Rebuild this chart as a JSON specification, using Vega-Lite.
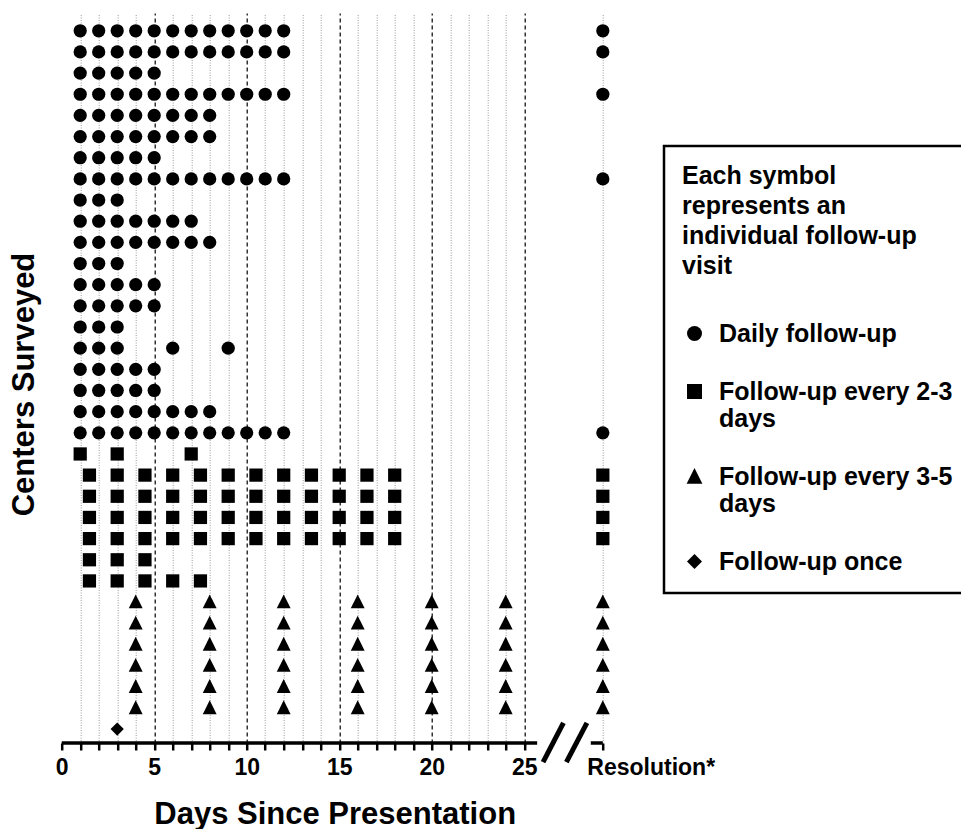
{
  "$schema": "https://vega.github.io/schema/vega-lite/v6.json",
  "width": 555,
  "height": 730,
  "autosize": {"type": "none"},
  "padding": {"left": 61.7, "top": 13, "right": 344.3, "bottom": 86},
  "background": "white",
  "config": {
    "view": {"stroke": null},
    "font": "Liberation Sans",
    "legend": {"strokeWidth": 2.5},
    "axis": {"labelOverlap": false, "labelFlush": false, "labelBound": false, "labelSeparation": 0},
    "axisY": {"domain": false, "ticks": false, "labels": false, "grid": false},
    "axisX": {"domain": false, "tickCount": 100, "format": "d"}
  },
  "datasets": {
    "visits": [
      {"center":1,"day":1,"type":"Daily follow-up"},{"center":1,"day":2,"type":"Daily follow-up"},{"center":1,"day":3,"type":"Daily follow-up"},{"center":1,"day":4,"type":"Daily follow-up"},{"center":1,"day":5,"type":"Daily follow-up"},{"center":1,"day":6,"type":"Daily follow-up"},{"center":1,"day":7,"type":"Daily follow-up"},{"center":1,"day":8,"type":"Daily follow-up"},{"center":1,"day":9,"type":"Daily follow-up"},{"center":1,"day":10,"type":"Daily follow-up"},{"center":1,"day":11,"type":"Daily follow-up"},{"center":1,"day":12,"type":"Daily follow-up"},{"center":1,"day":29.25,"type":"Daily follow-up"},
      {"center":2,"day":1,"type":"Daily follow-up"},{"center":2,"day":2,"type":"Daily follow-up"},{"center":2,"day":3,"type":"Daily follow-up"},{"center":2,"day":4,"type":"Daily follow-up"},{"center":2,"day":5,"type":"Daily follow-up"},{"center":2,"day":6,"type":"Daily follow-up"},{"center":2,"day":7,"type":"Daily follow-up"},{"center":2,"day":8,"type":"Daily follow-up"},{"center":2,"day":9,"type":"Daily follow-up"},{"center":2,"day":10,"type":"Daily follow-up"},{"center":2,"day":11,"type":"Daily follow-up"},{"center":2,"day":12,"type":"Daily follow-up"},{"center":2,"day":29.25,"type":"Daily follow-up"},
      {"center":3,"day":1,"type":"Daily follow-up"},{"center":3,"day":2,"type":"Daily follow-up"},{"center":3,"day":3,"type":"Daily follow-up"},{"center":3,"day":4,"type":"Daily follow-up"},{"center":3,"day":5,"type":"Daily follow-up"},
      {"center":4,"day":1,"type":"Daily follow-up"},{"center":4,"day":2,"type":"Daily follow-up"},{"center":4,"day":3,"type":"Daily follow-up"},{"center":4,"day":4,"type":"Daily follow-up"},{"center":4,"day":5,"type":"Daily follow-up"},{"center":4,"day":6,"type":"Daily follow-up"},{"center":4,"day":7,"type":"Daily follow-up"},{"center":4,"day":8,"type":"Daily follow-up"},{"center":4,"day":9,"type":"Daily follow-up"},{"center":4,"day":10,"type":"Daily follow-up"},{"center":4,"day":11,"type":"Daily follow-up"},{"center":4,"day":12,"type":"Daily follow-up"},{"center":4,"day":29.25,"type":"Daily follow-up"},
      {"center":5,"day":1,"type":"Daily follow-up"},{"center":5,"day":2,"type":"Daily follow-up"},{"center":5,"day":3,"type":"Daily follow-up"},{"center":5,"day":4,"type":"Daily follow-up"},{"center":5,"day":5,"type":"Daily follow-up"},{"center":5,"day":6,"type":"Daily follow-up"},{"center":5,"day":7,"type":"Daily follow-up"},{"center":5,"day":8,"type":"Daily follow-up"},
      {"center":6,"day":1,"type":"Daily follow-up"},{"center":6,"day":2,"type":"Daily follow-up"},{"center":6,"day":3,"type":"Daily follow-up"},{"center":6,"day":4,"type":"Daily follow-up"},{"center":6,"day":5,"type":"Daily follow-up"},{"center":6,"day":6,"type":"Daily follow-up"},{"center":6,"day":7,"type":"Daily follow-up"},{"center":6,"day":8,"type":"Daily follow-up"},
      {"center":7,"day":1,"type":"Daily follow-up"},{"center":7,"day":2,"type":"Daily follow-up"},{"center":7,"day":3,"type":"Daily follow-up"},{"center":7,"day":4,"type":"Daily follow-up"},{"center":7,"day":5,"type":"Daily follow-up"},
      {"center":8,"day":1,"type":"Daily follow-up"},{"center":8,"day":2,"type":"Daily follow-up"},{"center":8,"day":3,"type":"Daily follow-up"},{"center":8,"day":4,"type":"Daily follow-up"},{"center":8,"day":5,"type":"Daily follow-up"},{"center":8,"day":6,"type":"Daily follow-up"},{"center":8,"day":7,"type":"Daily follow-up"},{"center":8,"day":8,"type":"Daily follow-up"},{"center":8,"day":9,"type":"Daily follow-up"},{"center":8,"day":10,"type":"Daily follow-up"},{"center":8,"day":11,"type":"Daily follow-up"},{"center":8,"day":12,"type":"Daily follow-up"},{"center":8,"day":29.25,"type":"Daily follow-up"},
      {"center":9,"day":1,"type":"Daily follow-up"},{"center":9,"day":2,"type":"Daily follow-up"},{"center":9,"day":3,"type":"Daily follow-up"},
      {"center":10,"day":1,"type":"Daily follow-up"},{"center":10,"day":2,"type":"Daily follow-up"},{"center":10,"day":3,"type":"Daily follow-up"},{"center":10,"day":4,"type":"Daily follow-up"},{"center":10,"day":5,"type":"Daily follow-up"},{"center":10,"day":6,"type":"Daily follow-up"},{"center":10,"day":7,"type":"Daily follow-up"},
      {"center":11,"day":1,"type":"Daily follow-up"},{"center":11,"day":2,"type":"Daily follow-up"},{"center":11,"day":3,"type":"Daily follow-up"},{"center":11,"day":4,"type":"Daily follow-up"},{"center":11,"day":5,"type":"Daily follow-up"},{"center":11,"day":6,"type":"Daily follow-up"},{"center":11,"day":7,"type":"Daily follow-up"},{"center":11,"day":8,"type":"Daily follow-up"},
      {"center":12,"day":1,"type":"Daily follow-up"},{"center":12,"day":2,"type":"Daily follow-up"},{"center":12,"day":3,"type":"Daily follow-up"},
      {"center":13,"day":1,"type":"Daily follow-up"},{"center":13,"day":2,"type":"Daily follow-up"},{"center":13,"day":3,"type":"Daily follow-up"},{"center":13,"day":4,"type":"Daily follow-up"},{"center":13,"day":5,"type":"Daily follow-up"},
      {"center":14,"day":1,"type":"Daily follow-up"},{"center":14,"day":2,"type":"Daily follow-up"},{"center":14,"day":3,"type":"Daily follow-up"},{"center":14,"day":4,"type":"Daily follow-up"},{"center":14,"day":5,"type":"Daily follow-up"},
      {"center":15,"day":1,"type":"Daily follow-up"},{"center":15,"day":2,"type":"Daily follow-up"},{"center":15,"day":3,"type":"Daily follow-up"},
      {"center":16,"day":1,"type":"Daily follow-up"},{"center":16,"day":2,"type":"Daily follow-up"},{"center":16,"day":3,"type":"Daily follow-up"},{"center":16,"day":6,"type":"Daily follow-up"},{"center":16,"day":9,"type":"Daily follow-up"},
      {"center":17,"day":1,"type":"Daily follow-up"},{"center":17,"day":2,"type":"Daily follow-up"},{"center":17,"day":3,"type":"Daily follow-up"},{"center":17,"day":4,"type":"Daily follow-up"},{"center":17,"day":5,"type":"Daily follow-up"},
      {"center":18,"day":1,"type":"Daily follow-up"},{"center":18,"day":2,"type":"Daily follow-up"},{"center":18,"day":3,"type":"Daily follow-up"},{"center":18,"day":4,"type":"Daily follow-up"},{"center":18,"day":5,"type":"Daily follow-up"},
      {"center":19,"day":1,"type":"Daily follow-up"},{"center":19,"day":2,"type":"Daily follow-up"},{"center":19,"day":3,"type":"Daily follow-up"},{"center":19,"day":4,"type":"Daily follow-up"},{"center":19,"day":5,"type":"Daily follow-up"},{"center":19,"day":6,"type":"Daily follow-up"},{"center":19,"day":7,"type":"Daily follow-up"},{"center":19,"day":8,"type":"Daily follow-up"},
      {"center":20,"day":1,"type":"Daily follow-up"},{"center":20,"day":2,"type":"Daily follow-up"},{"center":20,"day":3,"type":"Daily follow-up"},{"center":20,"day":4,"type":"Daily follow-up"},{"center":20,"day":5,"type":"Daily follow-up"},{"center":20,"day":6,"type":"Daily follow-up"},{"center":20,"day":7,"type":"Daily follow-up"},{"center":20,"day":8,"type":"Daily follow-up"},{"center":20,"day":9,"type":"Daily follow-up"},{"center":20,"day":10,"type":"Daily follow-up"},{"center":20,"day":11,"type":"Daily follow-up"},{"center":20,"day":12,"type":"Daily follow-up"},{"center":20,"day":29.25,"type":"Daily follow-up"},
      {"center":21,"day":1,"type":"Follow-up every 2-3 days"},{"center":21,"day":3,"type":"Follow-up every 2-3 days"},{"center":21,"day":7,"type":"Follow-up every 2-3 days"},
      {"center":22,"day":1.5,"type":"Follow-up every 2-3 days"},{"center":22,"day":3,"type":"Follow-up every 2-3 days"},{"center":22,"day":4.5,"type":"Follow-up every 2-3 days"},{"center":22,"day":6,"type":"Follow-up every 2-3 days"},{"center":22,"day":7.5,"type":"Follow-up every 2-3 days"},{"center":22,"day":9,"type":"Follow-up every 2-3 days"},{"center":22,"day":10.5,"type":"Follow-up every 2-3 days"},{"center":22,"day":12,"type":"Follow-up every 2-3 days"},{"center":22,"day":13.5,"type":"Follow-up every 2-3 days"},{"center":22,"day":15,"type":"Follow-up every 2-3 days"},{"center":22,"day":16.5,"type":"Follow-up every 2-3 days"},{"center":22,"day":18,"type":"Follow-up every 2-3 days"},{"center":22,"day":29.25,"type":"Follow-up every 2-3 days"},
      {"center":23,"day":1.5,"type":"Follow-up every 2-3 days"},{"center":23,"day":3,"type":"Follow-up every 2-3 days"},{"center":23,"day":4.5,"type":"Follow-up every 2-3 days"},{"center":23,"day":6,"type":"Follow-up every 2-3 days"},{"center":23,"day":7.5,"type":"Follow-up every 2-3 days"},{"center":23,"day":9,"type":"Follow-up every 2-3 days"},{"center":23,"day":10.5,"type":"Follow-up every 2-3 days"},{"center":23,"day":12,"type":"Follow-up every 2-3 days"},{"center":23,"day":13.5,"type":"Follow-up every 2-3 days"},{"center":23,"day":15,"type":"Follow-up every 2-3 days"},{"center":23,"day":16.5,"type":"Follow-up every 2-3 days"},{"center":23,"day":18,"type":"Follow-up every 2-3 days"},{"center":23,"day":29.25,"type":"Follow-up every 2-3 days"},
      {"center":24,"day":1.5,"type":"Follow-up every 2-3 days"},{"center":24,"day":3,"type":"Follow-up every 2-3 days"},{"center":24,"day":4.5,"type":"Follow-up every 2-3 days"},{"center":24,"day":6,"type":"Follow-up every 2-3 days"},{"center":24,"day":7.5,"type":"Follow-up every 2-3 days"},{"center":24,"day":9,"type":"Follow-up every 2-3 days"},{"center":24,"day":10.5,"type":"Follow-up every 2-3 days"},{"center":24,"day":12,"type":"Follow-up every 2-3 days"},{"center":24,"day":13.5,"type":"Follow-up every 2-3 days"},{"center":24,"day":15,"type":"Follow-up every 2-3 days"},{"center":24,"day":16.5,"type":"Follow-up every 2-3 days"},{"center":24,"day":18,"type":"Follow-up every 2-3 days"},{"center":24,"day":29.25,"type":"Follow-up every 2-3 days"},
      {"center":25,"day":1.5,"type":"Follow-up every 2-3 days"},{"center":25,"day":3,"type":"Follow-up every 2-3 days"},{"center":25,"day":4.5,"type":"Follow-up every 2-3 days"},{"center":25,"day":6,"type":"Follow-up every 2-3 days"},{"center":25,"day":7.5,"type":"Follow-up every 2-3 days"},{"center":25,"day":9,"type":"Follow-up every 2-3 days"},{"center":25,"day":10.5,"type":"Follow-up every 2-3 days"},{"center":25,"day":12,"type":"Follow-up every 2-3 days"},{"center":25,"day":13.5,"type":"Follow-up every 2-3 days"},{"center":25,"day":15,"type":"Follow-up every 2-3 days"},{"center":25,"day":16.5,"type":"Follow-up every 2-3 days"},{"center":25,"day":18,"type":"Follow-up every 2-3 days"},{"center":25,"day":29.25,"type":"Follow-up every 2-3 days"},
      {"center":26,"day":1.5,"type":"Follow-up every 2-3 days"},{"center":26,"day":3,"type":"Follow-up every 2-3 days"},{"center":26,"day":4.5,"type":"Follow-up every 2-3 days"},
      {"center":27,"day":1.5,"type":"Follow-up every 2-3 days"},{"center":27,"day":3,"type":"Follow-up every 2-3 days"},{"center":27,"day":4.5,"type":"Follow-up every 2-3 days"},{"center":27,"day":6,"type":"Follow-up every 2-3 days"},{"center":27,"day":7.5,"type":"Follow-up every 2-3 days"},
      {"center":28,"day":4,"type":"Follow-up every 3-5 days"},{"center":28,"day":8,"type":"Follow-up every 3-5 days"},{"center":28,"day":12,"type":"Follow-up every 3-5 days"},{"center":28,"day":16,"type":"Follow-up every 3-5 days"},{"center":28,"day":20,"type":"Follow-up every 3-5 days"},{"center":28,"day":24,"type":"Follow-up every 3-5 days"},{"center":28,"day":29.25,"type":"Follow-up every 3-5 days"},
      {"center":29,"day":4,"type":"Follow-up every 3-5 days"},{"center":29,"day":8,"type":"Follow-up every 3-5 days"},{"center":29,"day":12,"type":"Follow-up every 3-5 days"},{"center":29,"day":16,"type":"Follow-up every 3-5 days"},{"center":29,"day":20,"type":"Follow-up every 3-5 days"},{"center":29,"day":24,"type":"Follow-up every 3-5 days"},{"center":29,"day":29.25,"type":"Follow-up every 3-5 days"},
      {"center":30,"day":4,"type":"Follow-up every 3-5 days"},{"center":30,"day":8,"type":"Follow-up every 3-5 days"},{"center":30,"day":12,"type":"Follow-up every 3-5 days"},{"center":30,"day":16,"type":"Follow-up every 3-5 days"},{"center":30,"day":20,"type":"Follow-up every 3-5 days"},{"center":30,"day":24,"type":"Follow-up every 3-5 days"},{"center":30,"day":29.25,"type":"Follow-up every 3-5 days"},
      {"center":31,"day":4,"type":"Follow-up every 3-5 days"},{"center":31,"day":8,"type":"Follow-up every 3-5 days"},{"center":31,"day":12,"type":"Follow-up every 3-5 days"},{"center":31,"day":16,"type":"Follow-up every 3-5 days"},{"center":31,"day":20,"type":"Follow-up every 3-5 days"},{"center":31,"day":24,"type":"Follow-up every 3-5 days"},{"center":31,"day":29.25,"type":"Follow-up every 3-5 days"},
      {"center":32,"day":4,"type":"Follow-up every 3-5 days"},{"center":32,"day":8,"type":"Follow-up every 3-5 days"},{"center":32,"day":12,"type":"Follow-up every 3-5 days"},{"center":32,"day":16,"type":"Follow-up every 3-5 days"},{"center":32,"day":20,"type":"Follow-up every 3-5 days"},{"center":32,"day":24,"type":"Follow-up every 3-5 days"},{"center":32,"day":29.25,"type":"Follow-up every 3-5 days"},
      {"center":33,"day":4,"type":"Follow-up every 3-5 days"},{"center":33,"day":8,"type":"Follow-up every 3-5 days"},{"center":33,"day":12,"type":"Follow-up every 3-5 days"},{"center":33,"day":16,"type":"Follow-up every 3-5 days"},{"center":33,"day":20,"type":"Follow-up every 3-5 days"},{"center":33,"day":24,"type":"Follow-up every 3-5 days"},{"center":33,"day":29.25,"type":"Follow-up every 3-5 days"},
      {"center":34,"day":3,"type":"Follow-up once"}
    ],
    "axisline": [
      {"day": 0, "dayEnd": 25.7},
      {"day": 28.6, "dayEnd": 29.25}
    ],
    "axisbreak": [
      {"day": 26.02, "dayEnd": 27.12, "center": 35.56, "centerEnd": 33.71},
      {"day": 27.28, "dayEnd": 28.39, "center": 35.56, "centerEnd": 33.71}
    ]
  },
  "layer": [
    {
      "data": {"name": "visits"},
      "mark": {"type": "point", "filled": true, "opacity": 1, "color": "black", "size": 175},
      "encoding": {
        "x": {
          "field": "day", "type": "quantitative",
          "scale": {"domain": [0, 30], "nice": false, "zero": false},
          "title": "Days Since Presentation",
          "axis": {
            "values": [0,1,2,3,4,5,6,7,8,9,10,11,12,13,14,15,16,17,18,19,20,21,22,23,24,25,29.25],
            "tickCount": 100,
            "format": "d",
            "domain": false,
            "grid": true,
            "gridColor": {"condition": {"test": "datum.value === 5 || datum.value === 10 || datum.value === 15 || datum.value === 20 || datum.value === 25", "value": "#000000"}, "value": "#9a9a9a"},
            "gridDash": {"condition": {"test": "datum.value === 5 || datum.value === 10 || datum.value === 15 || datum.value === 20 || datum.value === 25", "value": [4, 3]}, "value": [1, 1.5]},
            "gridWidth": {"condition": {"test": "datum.value === 5 || datum.value === 10 || datum.value === 15 || datum.value === 20 || datum.value === 25", "value": 1.2}, "value": 1},
            "gridOpacity": {"condition": {"test": "datum.value === 0", "value": 0}, "value": 1},
            "ticks": true, "tickSize": 7, "tickWidth": 2.5, "tickColor": "black",
            "labelExpr": "datum.value === 29.25 ? 'Resolution*' : ((datum.value === 0 || datum.value === 5 || datum.value === 10 || datum.value === 15 || datum.value === 20 || datum.value === 25) ? datum.label : '')",
            "labelFont": "Liberation Sans", "labelFontWeight": "bold", "labelFontSize": 23, "labelColor": "black",
            "labelAlign": {"condition": {"test": "datum.value === 29.25", "value": "left"}, "value": "center"},
            "labelOffset": {"condition": {"test": "datum.value === 29.25", "value": -16}, "value": 0},
            "labelPadding": 6, "labelFlush": false, "labelOverlap": false, "labelBound": false, "labelSeparation": 0,
            "titleFont": "Liberation Sans", "titleFontSize": 31, "titleFontWeight": "bold", "titleColor": "black",
            "titleX": 273, "titleY": 80, "titleBaseline": "alphabetic", "titleAlign": "center"
          }
        },
        "y": {
          "field": "center", "type": "quantitative",
          "scale": {"domain": [0.16, 34.66], "reverse": true, "nice": false, "zero": false},
          "title": "Centers Surveyed",
          "axis": {
            "domain": false, "ticks": false, "labels": false, "grid": false,
            "titleFont": "Liberation Sans", "titleFontSize": 31, "titleFontWeight": "bold", "titleColor": "black",
            "titleX": -28.7, "titleY": 371, "titleAngle": 270, "titleBaseline": "alphabetic", "titleAlign": "center"
          }
        },
        "shape": {
          "field": "type", "type": "nominal",
          "scale": {
            "domain": ["Daily follow-up", "Follow-up every 2-3 days", "Follow-up every 3-5 days", "Follow-up once"],
            "range": ["circle", "square", "M0,-1.15L1.05,0.95L-1.05,0.95Z", "M0,-1L1,0L0,1L-1,0Z"]
          },
          "legend": {
            "orient": "none", "legendX": 602.3, "legendY": 133, "direction": "vertical",
            "title": ["Each symbol", "represents an", "individual follow-up", "visit"],
            "titleFont": "Liberation Sans", "titleFontSize": 25, "titleFontWeight": "bold", "titleColor": "black",
            "titleLineHeight": 30, "titleLimit": 400, "titlePadding": 42,
            "labelFont": "Liberation Sans", "labelFontSize": 25, "labelFontWeight": "bold", "labelColor": "black",
            "labelLimit": 400, "labelOffset": 12,
            "labelExpr": "datum.label === 'Follow-up every 2-3 days' ? ['Follow-up every 2-3', 'days'] : (datum.label === 'Follow-up every 3-5 days' ? ['Follow-up every 3-5', 'days'] : datum.label)",
            "symbolSize": 225, "symbolFillColor": "black", "symbolStrokeColor": "black", "symbolOffset": 0,
            "rowPadding": 32, "padding": 18,
            "strokeColor": "black", "fillColor": "white", "cornerRadius": 0
          }
        }
      }
    },
    {
      "data": {"name": "axisline"},
      "mark": {"type": "rule", "color": "black", "strokeWidth": 3.5, "strokeCap": "butt"},
      "encoding": {
        "x": {"field": "day", "type": "quantitative", "title": "Days Since Presentation"},
        "x2": {"field": "dayEnd"},
        "y": {"datum": 34.66, "type": "quantitative", "title": "Centers Surveyed"}
      }
    },
    {
      "data": {"name": "axisbreak"},
      "mark": {"type": "rule", "color": "black", "strokeWidth": 5, "strokeCap": "butt"},
      "encoding": {
        "x": {"field": "day", "type": "quantitative", "title": "Days Since Presentation"},
        "x2": {"field": "dayEnd"},
        "y": {"field": "center", "type": "quantitative", "title": "Centers Surveyed"},
        "y2": {"field": "centerEnd"}
      }
    }
  ]
}
